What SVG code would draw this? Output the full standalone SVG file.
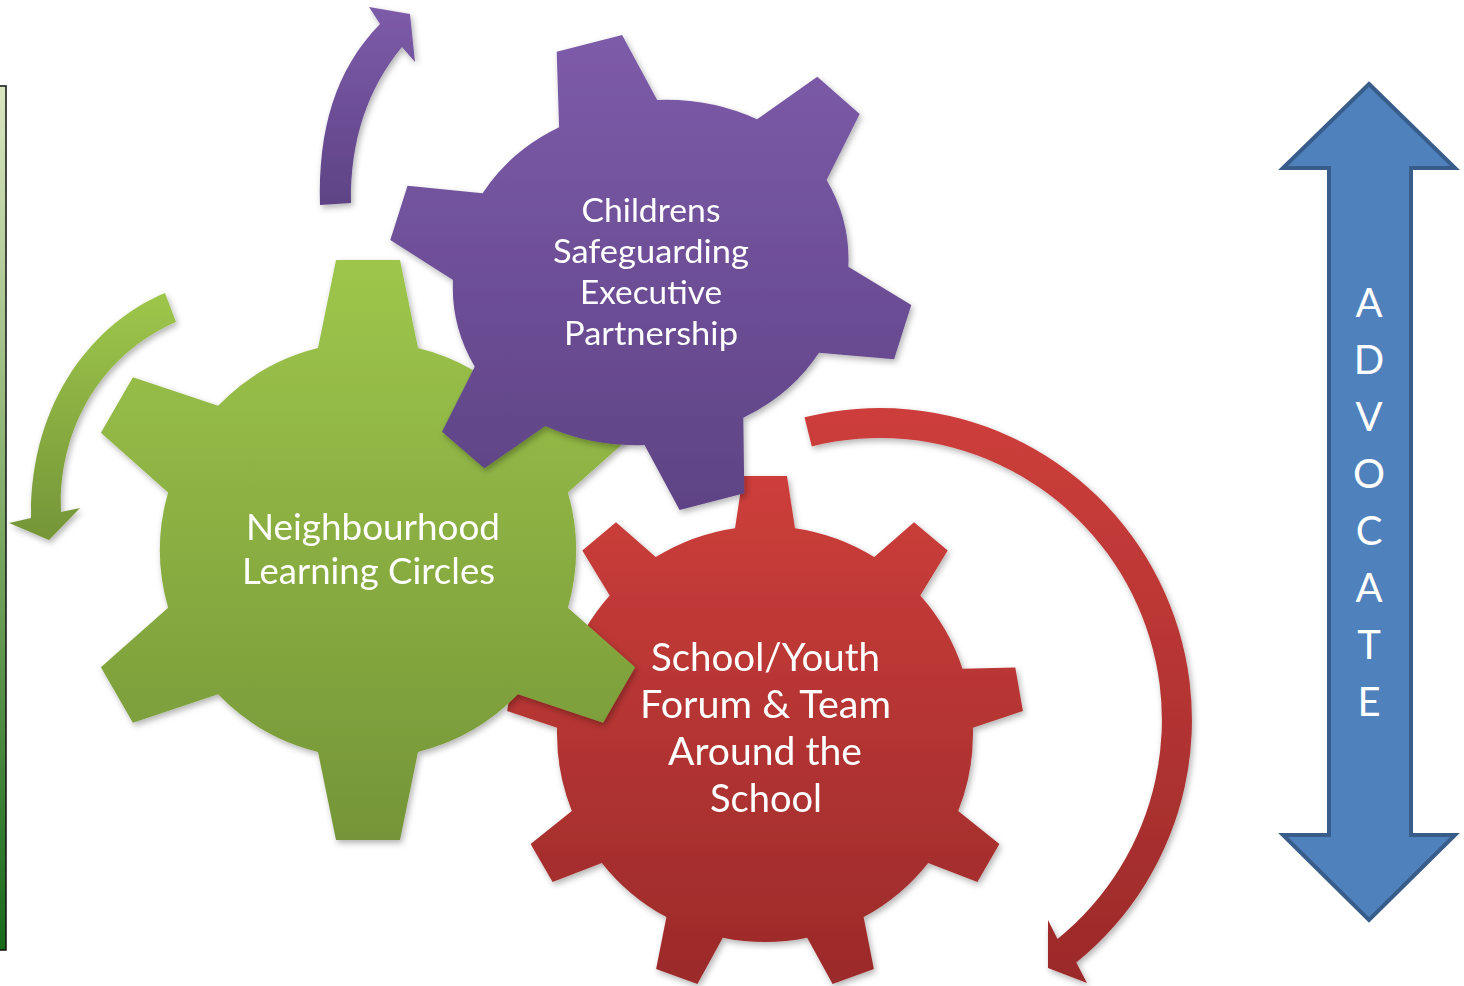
<svg xmlns="http://www.w3.org/2000/svg" width="1464" height="986" viewBox="0 0 1464 986">
  <defs>
    <style>
      .lbl { font-family: "Lato", "Open Sans", "Liberation Sans", sans-serif; fill: #ffffff; text-anchor: middle; }
      .adv { font-family: "Lato", "Open Sans", "Liberation Sans", sans-serif; fill: #ffffff; text-anchor: middle; font-size: 40px; }
    </style>
    <linearGradient id="gPurple" x1="0" y1="0" x2="0" y2="1">
      <stop offset="0" stop-color="#7d5ba9"/>
      <stop offset="1" stop-color="#5e4385"/>
    </linearGradient>
    <linearGradient id="gGreen" x1="0" y1="0" x2="0" y2="1">
      <stop offset="0" stop-color="#9ec64b"/>
      <stop offset="1" stop-color="#759538"/>
    </linearGradient>
    <linearGradient id="gRed" x1="0" y1="0" x2="0" y2="1">
      <stop offset="0" stop-color="#cd3e3b"/>
      <stop offset="1" stop-color="#9b2a2a"/>
    </linearGradient>
    <linearGradient id="gBar" x1="0" y1="0" x2="0" y2="1">
      <stop offset="0" stop-color="#dae6c1"/>
      <stop offset="0.5" stop-color="#7faa64"/>
      <stop offset="1" stop-color="#176a18"/>
    </linearGradient>
    <filter id="shadow" x="-10%" y="-10%" width="120%" height="120%">
      <feDropShadow dx="2" dy="3" stdDeviation="3" flood-color="#000" flood-opacity="0.3"/>
    </filter>
  </defs>

  <rect width="1464" height="986" fill="#ffffff"/>

  <g id="side-bar">
    <rect x="-2" y="86" width="8" height="864" fill="url(#gBar)" stroke="#111" stroke-width="1.5"/>
  </g>

  <g id="connectors" filter="url(#shadow)">
    <path id="arrow-purple" fill="url(#gPurple)" d="M 320,205 C 318,130 335,70 380,24 L 369,7 L 410,14 L 415,62 L 402,47 C 368,88 350,140 351,203 Z"/>
    <path id="arrow-green" fill="url(#gGreen)" d="M 165,293 C 95,322 30,400 31,518 L 9,523 L 49,540 L 80,508 L 61,512 C 58,430 100,355 176,322 Z"/>
    <path id="arrow-red" fill="url(#gRed)" d="M 804.5,417.3 A 312 312 0 0 1 1076.3,962.5 L 1087,983 L 1048,968 L 1048,920 L 1057.5,939.1 A 282 282 0 0 0 811.8,446.4 Z"/>
  </g>

  <g id="gear-red" filter="url(#shadow)">
    <path fill="url(#gRed)" d="M 735,528.2 L 743,476 L 787,476 L 795,528.2
      A 208 208 0 0 1 874.3,557.1 L 914,522.2 L 947.7,550.5 L 920.3,595.6
      A 208 208 0 0 1 962.5,668.7 L 1015.3,667.5 L 1022.9,710.9 L 972.9,727.8
      A 208 208 0 0 1 958.2,810.9 L 999.4,844 L 977.4,882.1 L 928.2,862.9
      A 208 208 0 0 1 863.6,917.1 L 873.9,968.9 L 832.6,984 L 807.2,937.7
      A 208 208 0 0 1 722.8,937.7 L 697.4,984 L 656.1,968.9 L 666.4,917.1
      A 208 208 0 0 1 601.8,862.9 L 552.6,882.1 L 530.6,844 L 571.8,810.9
      A 208 208 0 0 1 557.1,727.8 L 507.1,710.9 L 514.7,667.5 L 567.5,668.7
      A 208 208 0 0 1 609.7,595.6 L 582.3,550.5 L 616,522.2 L 655.7,557.1
      A 208 208 0 0 1 735,528.2 Z"/>
    <text class="lbl" font-size="38" x="765.5" y="671" textLength="229" lengthAdjust="spacingAndGlyphs">School/Youth</text>
    <text class="lbl" font-size="38" x="765.5" y="718" textLength="251" lengthAdjust="spacingAndGlyphs">Forum &amp; Team</text>
    <text class="lbl" font-size="38" x="765" y="765" textLength="194" lengthAdjust="spacingAndGlyphs">Around the</text>
    <text class="lbl" font-size="38" x="766" y="812" textLength="112" lengthAdjust="spacingAndGlyphs">School</text>
  </g>

  <g id="gear-green" filter="url(#shadow)">
    <path fill="url(#gGreen)" d="M 318,348.1 L 336,260 L 400,260 L 418,348.1
      A 208 208 0 0 1 517.9,405.8 L 603.1,377.3 L 635.1,432.7 L 567.9,492.4
      A 208 208 0 0 1 567.9,607.7 L 635.1,667.3 L 603.1,722.7 L 517.9,694.3
      A 208 208 0 0 1 418,751.9 L 400,840 L 336,840 L 318,751.9
      A 208 208 0 0 1 218.1,694.3 L 132.9,722.7 L 100.9,667.3 L 168.1,607.7
      A 208 208 0 0 1 168.1,492.4 L 100.9,432.7 L 132.9,377.3 L 218.1,405.8
      A 208 208 0 0 1 318,348.1 Z"/>
    <text class="lbl" font-size="36" x="373" y="540" textLength="254" lengthAdjust="spacingAndGlyphs">Neighbourhood</text>
    <text class="lbl" font-size="36" x="368.5" y="584" textLength="253" lengthAdjust="spacingAndGlyphs">Learning Circles</text>
  </g>

  <g id="gear-purple" filter="url(#shadow)">
    <path fill="url(#gPurple)" d="M 559.1,127.3 L 556.7,51.7 L 622.1,35 L 657.2,100
      A 198 173 0 0 1 757.1,119.3 L 817.3,76.7 L 859.7,114 L 826.6,180
      A 198 173 0 0 1 848.3,266.7 L 911.3,305 L 894.1,359.3 L 819,352.7
      A 198 173 0 0 1 743.3,417.7 L 744.3,493.3 L 679.6,510 L 644.5,445
      A 198 173 0 0 1 545.3,426 L 484.3,468.3 L 442,431.7 L 474.7,366.7
      A 198 173 0 0 1 453,280 L 390.3,240 L 407.5,185.7 L 482.6,193.3
      A 198 173 0 0 1 559.1,127.3 Z"/>
    <text class="lbl" font-size="33" x="651" y="222" textLength="139" lengthAdjust="spacingAndGlyphs">Childrens</text>
    <text class="lbl" font-size="33" x="651" y="263" textLength="196" lengthAdjust="spacingAndGlyphs">Safeguarding</text>
    <text class="lbl" font-size="33" x="651" y="304" textLength="142" lengthAdjust="spacingAndGlyphs">Executive</text>
    <text class="lbl" font-size="33" x="651" y="345" textLength="174" lengthAdjust="spacingAndGlyphs">Partnership</text>
  </g>

  <g id="advocate">
    <path fill="#4f81bd" stroke="#385d8a" stroke-width="4" stroke-linejoin="miter" d="M 1369,84 L 1455,168 L 1411,168 L 1411,835 L 1455,835 L 1369,920 L 1283,835 L 1329,835 L 1329,168 L 1283,168 Z"/>
    <text class="adv" x="1369" y="317">A</text>
    <text class="adv" x="1369" y="374">D</text>
    <text class="adv" x="1369" y="431">V</text>
    <text class="adv" x="1369" y="488">O</text>
    <text class="adv" x="1369" y="545">C</text>
    <text class="adv" x="1369" y="602">A</text>
    <text class="adv" x="1369" y="659">T</text>
    <text class="adv" x="1369" y="716">E</text>
  </g>
</svg>
